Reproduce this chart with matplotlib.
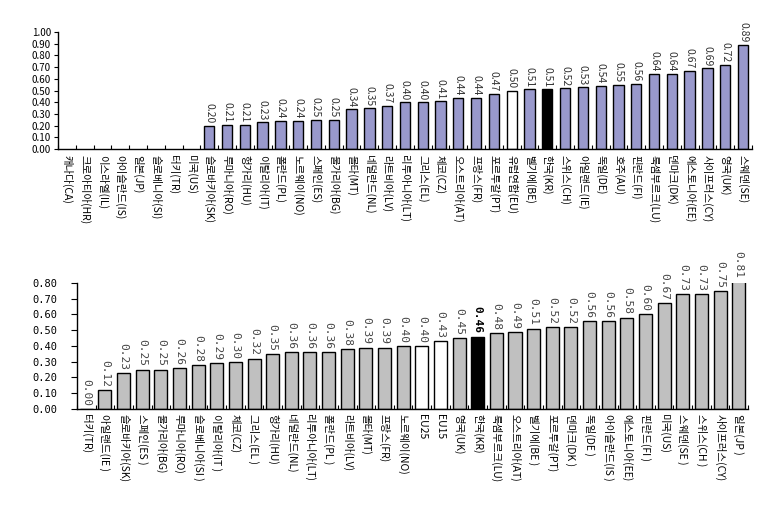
import matplotlib
matplotlib.use("Agg")
import matplotlib.pyplot as plt
import numpy as np

plt.rcParams['font.family'] = ['Noto Sans CJK KR', 'DejaVu Sans']

top_labels = ["캐나다(CA)", "크로아티아(HR)", "이스라엘(IL)", "아이슬란드(IS)", "일본(JP)",
              "슬로베니아(SI)", "터키(TR)", "미국(US)", "슬로바키아(SK)", "루마니아(RO)",
              "헝가리(HU)", "이탈리아(IT)", "폴란드(PL)", "노르웨이(NO)", "스페인(ES)",
              "불가리아(BG)", "몰타(MT)", "네덜란드(NL)", "라트비아(LV)", "리투아니아(LT)",
              "그리스(EL)", "체코(CZ)", "오스트리아(AT)", "프랑스(FR)", "포르투갈(PT)",
              "유럽연합(EU)", "벨기에(BE)", "한국(KR)", "스위스(CH)", "아일랜드(IE)",
              "독일(DE)", "호주(AU)", "핀란드(FI)", "룩셈부르크(LU)", "덴마크(DK)",
              "에스토니아(EE)", "사이프러스(CY)", "영국(UK)", "스웨덴(SE)"]
top_values = [None, None, None, None, None, None, None, None,
              0.20, 0.21, 0.21, 0.23, 0.24, 0.24, 0.25, 0.25, 0.34, 0.35, 0.37,
              0.40, 0.40, 0.41, 0.44, 0.44, 0.47, 0.50, 0.51, 0.51, 0.52, 0.53,
              0.54, 0.55, 0.56, 0.64, 0.64, 0.67, 0.69, 0.72, 0.89]
top_white = ["유럽연합(EU)"]
top_black = ["한국(KR)"]

bot_labels = ["터키(TR)", "아일랜드(IE )", "슬로바키아(SK)", "스페인(ES )", "불가리아(BG)",
              "루마니아(RO)", "슬로베니아(SI )", "이탈리아(IT )", "체코(CZ)", "그리스(EL )",
              "헝가리(HU)", "네덜란드(NL)", "리투아니아(LT)", "폴란드(PL )", "라트비아(LV)",
              "몰타(MT)", "프랑스(FR)", "노르웨이(NO)", "EU25", "EU15", "영국(UK)",
              "한국(KR)", "룩셈부르크(LU)", "오스트리아(AT)", "벨기에(BE )", "포르투갈(PT)",
              "덴마크(DK )", "독일(DE )", "아이슬란드(IS )", "에스토니아(EE)", "핀란드(FI )",
              "미국(US)", "스웨덴(SE )", "스위스(CH )", "사이프러스(CY)", "일본(JP )"]
bot_values = [0.00, 0.12, 0.23, 0.25, 0.25, 0.26, 0.28, 0.29, 0.30, 0.32, 0.35,
              0.36, 0.36, 0.36, 0.38, 0.39, 0.39, 0.40, 0.40, 0.43, 0.45, 0.46,
              0.48, 0.49, 0.51, 0.52, 0.52, 0.56, 0.56, 0.58, 0.60, 0.67, 0.73,
              0.73, 0.75, 0.81]
bot_white = ["EU25", "EU15"]
bot_black = ["한국(KR)"]

fig = plt.figure(figsize=(7.72, 5.25), dpi=100)

# ---------- top chart ----------
ax1 = fig.add_axes([0.0751, 0.716, 0.8989, 0.223])
for i, (lab, v) in enumerate(zip(top_labels, top_values)):
    if v is None:
        continue
    c = '#9999CC'
    if lab in top_white:
        c = 'white'
    elif lab in top_black:
        c = 'black'
    ax1.bar(i, v, width=0.58, color=c, edgecolor='black', linewidth=1.0)
    ax1.text(i, v + 0.02, f"{v:.2f}", rotation=270, ha='center', va='bottom',
             fontsize=7.5, color='#333333')
ax1.set_xlim(-0.5, len(top_labels) - 0.5)
ax1.set_ylim(0, 1.0)
yt1 = np.arange(0, 1.01, 0.1)
ax1.set_yticks(yt1)
ax1.set_yticklabels([f"{t:.2f}" for t in yt1], fontsize=7)
ax1.set_xticks(np.arange(-0.5, len(top_labels), 1))
ax1.set_xticklabels([])
ax1.tick_params(axis='x', direction='in', length=3, width=0.8)
ax1.tick_params(axis='y', direction='out', length=3, width=0.8, pad=2)
for i, lab in enumerate(top_labels):
    ax1.text(i, -0.05, lab, rotation=270, ha='center', va='top', fontsize=7.5)
for s in ['top', 'right']:
    ax1.spines[s].set_visible(False)
for s in ['left', 'bottom']:
    ax1.spines[s].set_linewidth(1.0)

# ---------- bottom chart ----------
ax2 = fig.add_axes([0.0997, 0.221, 0.8692, 0.240])
for i, (lab, v) in enumerate(zip(bot_labels, bot_values)):
    c = '#C0C0C0'
    if lab in bot_white:
        c = 'white'
    elif lab in bot_black:
        c = 'black'
    ax2.bar(i, v, width=0.7, color=c, edgecolor='black', linewidth=1.0)
    ax2.text(i, v + 0.02, f"{v:.2f}", rotation=270, ha='center', va='bottom',
             fontsize=8, color='black' if lab in bot_black else '#444444',
             fontweight='bold' if lab in bot_black else 'normal',
             family=['DejaVu Sans Mono'])
ax2.set_xlim(-0.5, len(bot_labels) - 0.5)
ax2.set_ylim(0, 0.8)
yt2 = np.arange(0, 0.81, 0.1)
ax2.set_yticks(yt2)
ax2.set_yticklabels([f"{t:.2f}" for t in yt2], fontsize=7.5,
                    family=['DejaVu Sans Mono'])
ax2.set_xticks(np.arange(-0.5, len(bot_labels), 1))
ax2.set_xticklabels([])
ax2.tick_params(axis='x', direction='in', length=3, width=0.8)
ax2.tick_params(axis='y', direction='out', length=4, width=0.8, pad=10)
for i, lab in enumerate(bot_labels):
    ax2.text(i, -0.035, lab, rotation=270, ha='center', va='top', fontsize=7.5)
for s in ['top', 'right']:
    ax2.spines[s].set_visible(False)
for s in ['left', 'bottom']:
    ax2.spines[s].set_linewidth(1.0)

fig.savefig("out.png", dpi=100)
